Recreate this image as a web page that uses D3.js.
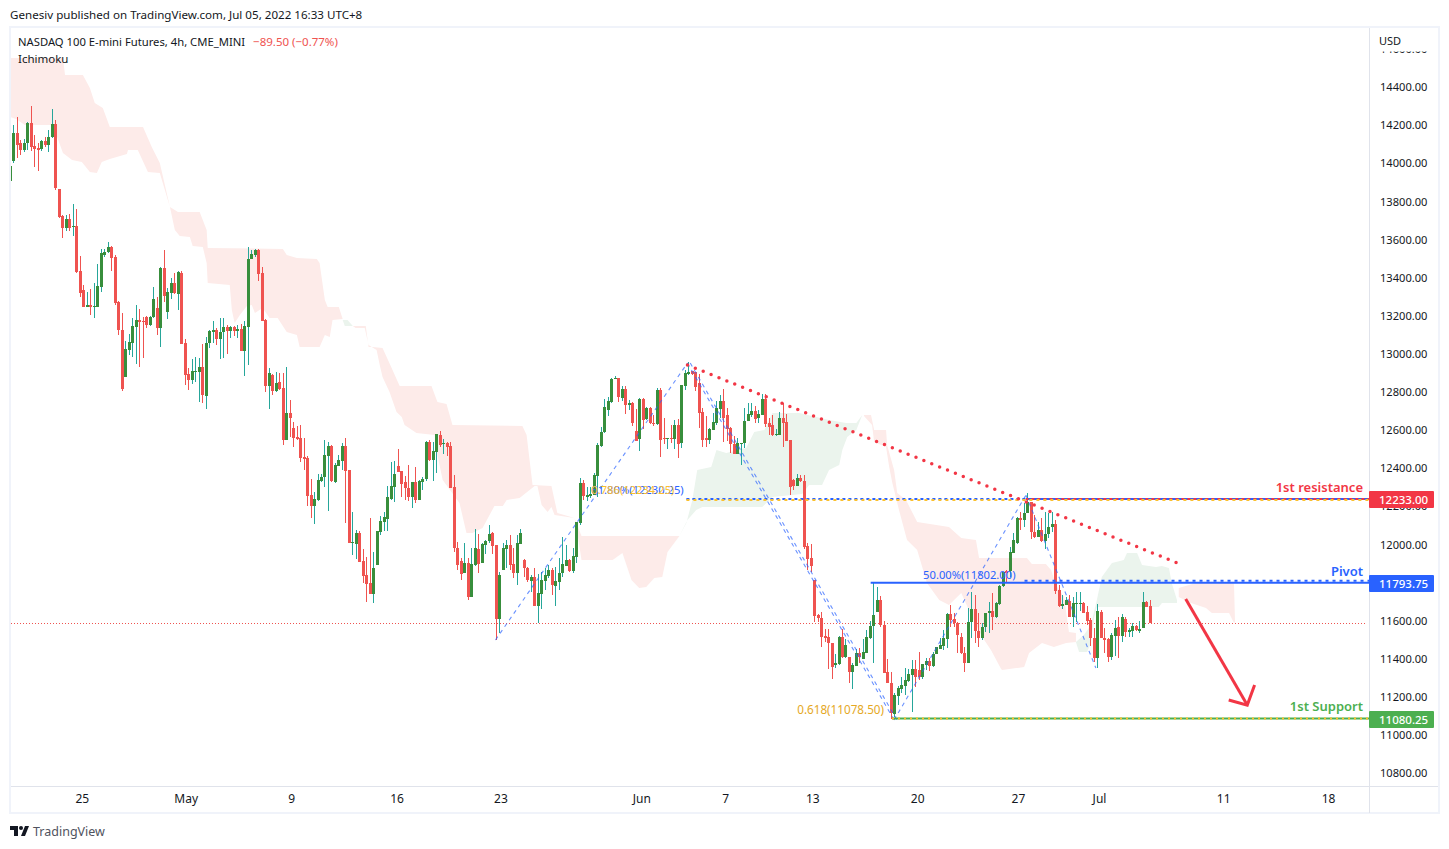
<!DOCTYPE html>
<html>
<head>
<meta charset="utf-8">
<script src="https://cdn.jsdelivr.net/npm/d3@7"></script>
<style>
body { margin: 0; background: #fff; overflow: hidden; }
text { font-family: "Noto Sans", sans-serif; }
</style>
</head>
<body>
<div id="content"></div>
<script>
// candles, one value per 4h bar
const opens = [
13900,14006,14151,14099,14064,14099,14204,14085,14073,14067,
14111,14092,14130,14200,13859,13718,13653,13702,13662,13665,
13429,13329,13242,13249,13242,13242,13347,13515,13527,13555,
13502,13266,13119,12874,13014,13053,13137,13172,13166,13186,
13146,13186,13233,13132,13446,13215,13315,13364,13308,13420,
13051,12888,12857,12900,12899,12925,12775,13049,13110,13119,
13074,13107,13135,13114,13135,13114,13125,13011,13137,13492,
13513,13539,13417,13172,12825,12883,12799,12845,12815,12542,
12684,12603,12556,12551,12453,12446,12254,12196,12227,12329,
12346,12460,12511,12323,12407,12434,12511,12385,12003,11998,
12052,11907,11834,11790,11734,11886,12061,12114,12128,12234,
12297,12406,12379,12322,12288,12243,12322,12227,12323,12339,
12532,12437,12481,12568,12519,12526,12512,12294,11975,11907,
11843,11895,11720,11886,11970,11895,11991,12012,12052,11991,
11603,11860,11970,11991,11892,11843,11996,11912,11872,11804,
11822,11673,11734,11804,11830,11860,11776,11799,11846,11883,
11912,11855,11930,12105,12315,12245,12248,12254,12353,12511,
12583,12700,12744,12863,12866,12761,12810,12726,12739,12590,
12548,12758,12653,12709,12634,12627,12805,12551,12548,12552,
12548,12621,12529,12826,12889,12905,12901,12840,12688,12551,
12543,12595,12634,12706,12747,12674,12604,12522,12469,12523,
12525,12642,12674,12697,12656,12674,12758,12630,12620,12570,
12569,12656,12636,12543,12333,12301,12341,12328,11986,11922,
11808,11624,11610,11515,11510,11475,11364,11367,11510,11402,
11402,11327,11358,11423,11393,11427,11505,11568,11642,11703,
11572,11327,11266,11105,11199,11236,11252,11280,11309,11341,
11336,11297,11362,11383,11358,11420,11446,11462,11498,11628,
11603,11580,11510,11427,11371,11586,11656,11542,11505,11563,
11633,11645,11615,11682,11778,11855,11855,11951,12000,12131,
12123,12158,12215,12062,12035,12070,12014,12049,12084,12100,
11755,11673,11677,11700,11615,11684,11684,11685,11638,11598,
11502,11397,11638,11502,11497,11406,11515,11560,11515,11603,
11533,11540,11567,11540,11554,11694,11671];

const highs = [
14011,14195,14239,14116,14120,14213,14295,14143,14099,14116,
14130,14169,14279,14221,13859,13723,13725,13730,13780,13754,
13508,13355,13319,13333,13364,13466,13542,13542,13581,13560,
13513,13271,13210,13062,13098,13180,13250,13229,13186,13193,
13193,13345,13294,13452,13539,13340,13394,13420,13429,13429,
13072,12922,12967,12979,12972,13046,13081,13119,13166,13128,
13180,13180,13145,13142,13142,13145,13151,13166,13553,13539,
13542,13542,13448,13175,12918,12888,12900,12895,12892,12923,
12752,12637,12617,12621,12551,12460,12337,12272,12364,12364,
12542,12533,12516,12420,12463,12525,12551,12385,12166,12070,
12066,11968,11930,12135,11953,12065,12143,12166,12301,12428,
12432,12493,12379,12353,12411,12323,12399,12332,12346,12535,
12542,12533,12574,12588,12545,12533,12533,12358,12009,11921,
12000,11921,11974,12073,12047,12000,12017,12096,12061,11991,
11851,12000,12017,12044,11974,12044,12073,11918,11877,11834,
11868,11837,11851,11868,11886,11868,11877,11921,12035,11991,
11918,11974,12114,12341,12332,12294,12294,12367,12525,12613,
12756,12767,12866,12879,12866,12825,12826,12750,12740,12705,
12765,12765,12714,12714,12674,12817,12814,12660,12551,12621,
12648,12653,12831,12907,12949,12905,12901,12889,12709,12669,
12604,12683,12749,12780,12810,12709,12609,12564,12551,12525,
12709,12735,12735,12721,12700,12782,12782,12656,12674,12600,
12691,12739,12679,12543,12340,12364,12360,12360,12000,11997,
11808,11630,11638,11550,11551,11475,11420,11514,11550,11500,
11406,11371,11445,11450,11498,11545,11593,11790,11773,11724,
11590,11395,11327,11213,11250,11297,11344,11339,11388,11388,
11432,11367,11397,11397,11432,11458,11502,11545,11633,11677,
11633,11586,11530,11458,11659,11743,11729,11633,11580,11633,
11694,11738,11694,11782,11852,11860,11979,12053,12137,12163,
12210,12263,12215,12149,12114,12131,12166,12158,12166,12123,
11782,11729,11720,11730,11720,11747,11747,11691,11671,11607,
11554,11680,11650,11554,11502,11528,11598,11615,11629,11615,
11558,11580,11572,11590,11747,11700,11703];

const lows = [
13854,13994,14020,14038,14055,14064,14060,13976,13955,14060,
14081,14055,14125,13854,13705,13600,13640,13640,13613,13420,
13294,13238,13240,13198,13182,13240,13320,13504,13525,13429,
13250,13093,12801,12874,12988,12979,12939,12927,12974,13130,
13140,13180,13093,13032,13268,13179,13282,13306,13224,13046,
12831,12804,12836,12848,12742,12738,12707,13023,13049,13040,
12969,12974,12993,13076,13088,13079,13011,12880,12936,13490,
13504,13376,13168,12796,12705,12778,12794,12805,12516,12542,
12560,12507,12542,12428,12385,12196,12135,12101,12224,12320,
12294,12171,12323,12315,12404,12385,12105,12003,11939,11920,
11904,11790,11694,11734,11689,11886,12045,12065,12066,12227,
12219,12376,12241,12227,12222,12187,12213,12227,12280,12329,
12434,12329,12371,12507,12469,12460,12288,11956,11860,11808,
11843,11703,11720,11881,11846,11895,11944,12000,11944,11493,
11528,11858,11870,11860,11816,11781,11996,11825,11799,11746,
11671,11580,11654,11755,11820,11729,11673,11755,11825,11881,
11851,11843,11898,12096,12227,12224,12236,12254,12245,12508,
12578,12670,12739,12860,12744,12745,12679,12700,12618,12539,
12482,12599,12648,12627,12616,12621,12455,12520,12495,12525,
12497,12447,12499,12805,12884,12884,12802,12604,12503,12508,
12522,12595,12621,12657,12534,12539,12473,12469,12469,12412,
12499,12642,12665,12630,12630,12674,12613,12569,12564,12565,
12569,12508,12539,12254,12280,12301,12323,11971,11860,11852,
11589,11589,11458,11480,11341,11286,11344,11362,11397,11397,
11269,11236,11355,11373,11393,11423,11500,11370,11640,11560,
11318,11266,11080,11090,11152,11213,11204,11274,11117,11248,
11283,11290,11336,11330,11353,11420,11446,11440,11449,11563,
11563,11423,11418,11323,11371,11502,11476,11458,11493,11533,
11530,11545,11607,11677,11773,11799,11825,11947,11995,12070,
12088,12165,12021,12026,12035,12009,11972,12026,12062,11734,
11668,11657,11677,11615,11563,11589,11647,11633,11572,11462,
11379,11344,11502,11423,11379,11388,11409,11400,11484,11510,
11510,11510,11540,11528,11554,11664,11580];

const closes = [
13980,14151,14090,14064,14099,14207,14081,14071,14064,14111,
14090,14130,14200,13863,13711,13653,13702,13655,13664,13425,
13312,13242,13250,13242,13245,13350,13523,13527,13555,13499,
13263,13119,12810,13020,13056,13140,13172,13163,13163,13146,
13186,13282,13132,13446,13299,13319,13364,13312,13422,13046,
12883,12857,12904,12904,12925,12778,13049,13114,13119,13074,
13107,13135,13114,13135,13114,13126,13011,13140,13492,13518,
13539,13413,13168,12825,12892,12799,12840,12808,12542,12684,
12658,12554,12547,12449,12442,12248,12196,12233,12332,12346,
12463,12511,12327,12411,12437,12511,12381,12003,12007,12052,
11904,11829,11787,11734,11869,12065,12117,12138,12241,12301,
12364,12376,12311,12288,12243,12322,12227,12327,12339,12532,
12437,12484,12574,12516,12526,12507,12288,11974,11886,11839,
11895,11720,11892,11974,11892,11995,12012,12047,11988,11603,
11834,11974,11991,11886,11843,12000,12052,11872,11808,11822,
11671,11738,11808,11834,11860,11781,11802,11846,11892,11912,
11855,11933,12110,12315,12248,12254,12259,12358,12516,12583,
12714,12747,12863,12866,12770,12810,12726,12737,12634,12539,
12758,12648,12709,12630,12625,12805,12543,12546,12551,12545,
12621,12522,12831,12896,12901,12889,12823,12686,12543,12543,
12600,12639,12712,12747,12656,12600,12522,12469,12525,12525,
12642,12679,12697,12653,12679,12758,12627,12609,12569,12572,
12656,12634,12539,12294,12301,12341,12329,11983,11918,11881,
11619,11610,11510,11505,11475,11353,11371,11510,11406,11467,
11327,11362,11423,11402,11432,11510,11568,11624,11703,11572,
11322,11266,11108,11204,11239,11257,11283,11315,11341,11301,
11297,11365,11383,11358,11420,11455,11467,11502,11628,11598,
11580,11519,11423,11374,11586,11656,11542,11505,11563,11633,
11645,11615,11685,11778,11852,11846,11953,12018,12131,12123,
12158,12215,12062,12035,12070,12014,12049,12084,12100,11752,
11671,11680,11703,11615,11685,11687,11687,11636,11594,11502,
11397,11645,11505,11493,11406,11519,11554,11515,11615,11533,
11545,11567,11546,11551,11691,11668,11580];

// ichimoku cloud outlines as [bar, price]
const redCloudA = [[0.1,14547],[15.2,14547],[15.8,14458],[20.9,14458],[22.9,14389],[24.3,14311],[26.6,14285],[28.6,14185],[38.1,14185],[40.6,14080],[42.9,13996],[45.8,13765],[48.1,13739],[54.3,13739],[56.3,13644],[56.6,13550],[78.1,13545],[79.2,13513],[82.1,13497],[87.8,13492],[88.6,13471],[90.1,13277],[90.9,13240],[94.1,13240],[95.2,13177],
  [92.3,13172],[91.5,13083],[90.1,13093],[88.6,13030],[82.9,13030],[82.1,13093],[79.2,13109],[76.6,13182],[74.3,13182],[72.3,13235],[70.1,13209],[69.2,13251],[67.8,13245],[65.8,13198],[64.3,13156],[63.5,13224],[62.9,13356],[56.6,13366],[56.3,13471],[55.2,13555],[52.3,13560],[51.5,13608],[48.6,13613],[47.2,13644],[45.8,13765],[42.9,13943],[39.5,13949],[36.6,14064],[33.8,14064],[33.5,14043],[28.6,14017],[26.3,14001],[24.9,13943],[22.9,13949],[20.6,14001],[17.8,14012],[15.2,14048],[12.3,14195],[4.3,14195],[1.8,14227],[0.1,14237]];
const greenCloudA = [[95.2,13172],[96.6,13172],[98.1,13140],[95.8,13140]];
const redCloudB = [[98.1,13140],[101.8,13140],[102.6,13030],[103.8,13030],[106.6,13025],[109.2,12920],[111.5,12826],[120.6,12826],[122.3,12742],[124.9,12731],[126.6,12621],[146.6,12616],[147.8,12569],[149.5,12306],[154.9,12301],[156.6,12159],[161.5,12133],
  [155.8,12149],[154.9,12191],[153.8,12165],[152.1,12201],[150.9,12301],[150.1,12301],[145.8,12238],[142.1,12227],[141,12196],[138.6,12196],[135.2,12080],[132.3,12054],[130.6,12054],[128.6,12212],[126.3,12269],[123.8,12332],[122.3,12463],[121.5,12568],[116.3,12579],[112.9,12621],[112.1,12663],[110.6,12689],[108.6,12794],[106.6,12873],[105.8,12936],[104.9,13015],[102.6,13041],[101.5,13130],[98.9,13130]];
const redCloudC = [[161.5,12133],[163.5,12038],[191.5,12038],[188.1,11954],[186.6,11823],[184.3,11818],[182,11771],[180,11765],[177.8,11808],[175.2,11949],[172.4,11912],[163.5,11912],[162.1,12080]];
const greenCloudB = [[191.5,12038],[193.5,12107],[195.2,12227],[196.6,12385],[200.6,12400],[202.1,12490],[204.9,12474],[210.6,12500],[212.9,12584],[215.8,12595],[218.1,12684],[225.8,12684],[234.3,12647],[239.2,12631],[242.1,12631],[243.8,12673],
  [242.1,12595],[239.5,12558],[238.1,12490],[237.2,12411],[234.3,12385],[232.3,12306],[228.6,12306],[226.6,12259],[218.1,12243],[215.2,12191],[198.1,12191],[196.3,12175],[193.8,12122]];
const redCloudD = [[244.3,12673],[246.3,12673],[247.2,12595],[250.6,12595],[250.9,12516],[252.9,12385],[253.8,12264],[256.3,12227],[259.5,12112],[268.6,12086],[272.1,12028],[276.3,12018],[277.2,11923],[290.9,11923],[292.3,11892],[296.3,11892],[297.8,11860],[299.2,11781],[301.5,11718],[302.9,11535],[304.9,11530],
  [304.9,11482],[302.1,11477],[298.6,11456],[295.2,11477],[291.5,11424],[290.1,11351],[283.8,11335],[283.5,11340],[280.6,11440],[278.1,11508],[275.2,11613],[272.1,11739],[268.6,11676],[265.8,11703],[262.3,11792],[259.5,11965],[256.6,12018],[254.3,12175],[252.4,12317],[251.5,12401],[250.6,12505],[247.2,12532],[246.6,12621],[244.3,12668]];
const greenCloudC = [[304.9,11482],[307.2,11519],[309.2,11571],[310.9,11704],[312.3,11823],[315.2,11897],[318.6,11912],[319.5,11949],[322.4,11949],[323.8,11886],[327.8,11876],[329.5,11881],[331.5,11870],[332.3,11792],[333.8,11702],[333.8,11687],
  [329.5,11687],[328.6,11666],[310.9,11666],[310.1,11608],[309.2,11477],[308.1,11430],[305.8,11430]];
const redCloudE = [[334.3,11765],[339.2,11792],[350.1,11792],[350.4,11587],[350.1,11582],[348.7,11634],[343.8,11634],[342.1,11660],[337.8,11687],[334.3,11718]];

// drawings, also [bar, price]
const fibSwings = [[[138.9,11493],[193.8,12946]],[[252.9,11073],[290.6,12253]],[[290.6,12253],[310.6,11346]]];
const fibDoubleLeg = [[[193.8,12946],[252.9,11073]],[[194.6,12946],[253.7,11073]]];
const trendLine = [[193.8,12936],[333.9,11897]];
const arrowShaft = [[336.3,11708],[353.9,11151]];
const arrowHead = [[348.6,11178],[353.9,11151],[356,11257]];

const lastPrice = 11582;
const resistance = 12233;
const pivot = 11793.75;
const support = 11080.25;
const priceTicks = [14600,14400,14200,14000,13800,13600,13400,13200,13000,12800,12600,12400,12200,12000,11800,11600,11400,11200,11000,10800];
const timeBars = [20.6,50.3,80.5,110.6,140.3,180.6,204.6,229.5,259.5,288.3,311.5,347,377];
const timeLabels = ['25','May','9','16','23','Jun','7','13','20','27','Jul','11','18'];

const width = 1449, height = 849;
const plotLeft = 11, plotRight = 1369, plotTop = 28, plotBottom = 786;
const green = '#388e3c', teal = '#26a69a', red = '#ef5350', mark = '#f23645';
const blue = '#2962ff', gold = '#fbc02d', lineGreen = '#4caf50';

const x = d3.scaleLinear().domain([0, 326]).range([9.8, 1149.7]);
const y = d3.scaleLinear().domain([14400, 10800]).range([86, 772]);

const svg = d3.select('#content').append('svg')
    .attr('width', width)
    .attr('height', height)
    .style('display', 'block');

svg.append('clipPath').attr('id', 'plot').append('rect')
    .attr('x', plotLeft).attr('y', plotTop)
    .attr('width', plotRight - plotLeft).attr('height', plotBottom - plotTop);
// clip is read in the axis group's own coordinates
svg.append('clipPath').attr('id', 'prices').append('rect')
    .attr('x', 0).attr('y', 51.5)
    .attr('width', 70).attr('height', 740);

// frame
svg.append('rect').attr('x', 10).attr('y', 27).attr('width', 1429).attr('height', 786)
    .attr('fill', '#fff').attr('stroke', '#f0f3fa').attr('stroke-width', 2);
svg.append('line').attr('x1', plotRight + 0.5).attr('x2', plotRight + 0.5).attr('y1', 28).attr('y2', 813).attr('stroke', '#e0e3eb');
svg.append('line').attr('x1', 11).attr('x2', 1438).attr('y1', plotBottom + 0.5).attr('y2', plotBottom + 0.5).attr('stroke', '#e0e3eb');

const plot = svg.append('g').attr('clip-path', 'url(#plot)');

// clouds
const outline = d3.line().x(d => x(d[0])).y(d => y(d[1]));
[redCloudA, redCloudB, redCloudC, redCloudD, redCloudE].forEach(c => {
    plot.append('path').attr('d', outline(c) + 'Z').attr('fill', '#fdebe9');
});
[greenCloudA, greenCloudB, greenCloudC].forEach(c => {
    plot.append('path').attr('d', outline(c) + 'Z').attr('fill', '#ebf4ed');
});

// last price line
plot.append('line')
    .attr('x1', plotLeft).attr('x2', plotRight - 2)
    .attr('y1', Math.round(y(lastPrice)) + 0.5).attr('y2', Math.round(y(lastPrice)) + 0.5)
    .attr('stroke', red).attr('stroke-dasharray', '1 2');

// candles
const bars = d3.range(opens.length);
plot.selectAll('.wick').data(bars).enter().append('rect')
    .attr('class', 'wick')
    .attr('x', i => Math.round(x(i)))
    .attr('y', i => Math.round(y(highs[i])))
    .attr('width', 1)
    .attr('height', i => Math.max(1, Math.round(y(lows[i])) - Math.round(y(highs[i]))))
    .attr('fill', i => closes[i] >= opens[i] ? teal : red);
plot.selectAll('.body').data(bars).enter().append('rect')
    .attr('class', 'body')
    .attr('x', i => Math.round(x(i)) - 1)
    .attr('y', i => Math.round(y(Math.max(opens[i], closes[i]))))
    .attr('width', 3)
    .attr('height', i => Math.max(1, Math.round(y(Math.min(opens[i], closes[i]))) - Math.round(y(Math.max(opens[i], closes[i])))))
    .attr('fill', i => closes[i] >= opens[i] ? green : red);

// fib drawings
fibSwings.concat(fibDoubleLeg).forEach(s => {
    plot.append('path').attr('d', outline(s)).attr('fill', 'none')
        .attr('stroke', '#2962ff').attr('stroke-opacity', 0.7).attr('stroke-width', 1.1)
        .attr('stroke-dasharray', '4 4');
});

// level lines
function level(price, fromBar, color, w, dash, nudge) {
    const l = plot.append('line')
        .attr('x1', x(fromBar)).attr('x2', plotRight)
        .attr('y1', y(price) + (nudge || 0)).attr('y2', y(price) + (nudge || 0))
        .attr('stroke', color).attr('stroke-width', w);
    if (dash) l.attr('stroke-dasharray', dash);
}
level(resistance, 290.6, mark, 2);
level(resistance, 193.5, blue, 2, '3 3');
level(resistance, 193.5, gold, 2, '3 4', 1);
level(pivot, 246.2, blue, 2);
level(pivot, 290.2, blue, 2, '3 4', -2);
level(support, 252.3, lineGreen, 2);
level(support, 252.3, gold, 2, '2 4');

plot.append('path').attr('d', outline(trendLine)).attr('fill', 'none')
    .attr('stroke', mark).attr('stroke-width', 3.5)
    .attr('stroke-linecap', 'round').attr('stroke-dasharray', '0 8.5');

plot.append('path').attr('d', outline(arrowShaft)).attr('fill', 'none').attr('stroke', mark).attr('stroke-width', 3);
plot.append('path').attr('d', outline(arrowHead)).attr('fill', 'none').attr('stroke', mark).attr('stroke-width', 3);

// fib labels
function plotText(str, bar, price, color, anchor, size, weight) {
    plot.append('text').attr('x', x(bar)).attr('y', y(price)).text(str)
        .attr('fill', color).attr('font-size', size || 11.2)
        .attr('text-anchor', anchor || 'start')
        .attr('font-weight', weight || 400);
}
plotText('61.80%(12230.25)', 166.3, 12258, blue);
plotText('0.786(12234.25)', 166.3, 12258, gold);
plotText('50.00%(11802.00)', 261.2, 11815, blue);
plotText('0.618(11078.50)', 225.2, 11103, '#e5a823', 'start', 11.7);
plotText('1st resistance', 387, 12270, mark, 'end', 13, 600);
plotText('Pivot', 387, 11830, blue, 'end', 13, 600);
plotText('1st Support', 387, 11120, lineGreen, 'end', 13, 600);

// axes
const priceAxis = d3.axisRight(y).tickValues(priceTicks).tickSize(0).tickPadding(11).tickFormat(d3.format('.2f'));
const priceG = svg.append('g').attr('transform', `translate(${plotRight},0)`)
    .attr('clip-path', 'url(#prices)').call(priceAxis);
priceG.select('.domain').remove();
priceG.selectAll('text').attr('font-size', 11.1).attr('dy', '0.42em').attr('fill', '#131722').attr('font-family', null);

const timeAxis = d3.axisBottom(x).tickValues(timeBars).tickSize(0).tickPadding(8)
    .tickFormat((d, i) => timeLabels[i]);
const timeG = svg.append('g').attr('transform', `translate(0,${plotBottom})`).call(timeAxis);
timeG.select('.domain').remove();
timeG.selectAll('text').attr('font-size', 12).attr('fill', '#131722').attr('font-family', null);

// price tags
[[resistance, mark], [pivot, blue], [support, lineGreen]].forEach(p => {
    const tag = svg.append('g').attr('transform', `translate(${plotRight},${Math.round(y(p[0]))})`);
    tag.append('rect').attr('y', -8).attr('width', 65).attr('height', 17).attr('rx', 1).attr('fill', p[1]);
    tag.append('text').attr('x', 10).attr('y', 4.5).text(d3.format('.2f')(p[0]))
        .attr('fill', '#fff').attr('font-size', 11.5).attr('font-weight', 500);
});

// header and footer text
svg.append('text').attr('x', 10).attr('y', 19).text('Genesiv published on TradingView.com, Jul 05, 2022 16:33 UTC+8')
    .attr('font-size', 11.6).attr('fill', '#131722');
const title = svg.append('text').attr('x', 18).attr('y', 46).attr('font-size', 11.25).attr('fill', '#131722');
title.append('tspan').text('NASDAQ 100 E-mini Futures, 4h, CME_MINI');
title.append('tspan').attr('dx', 8).attr('font-size', 11.5).attr('fill', red).text('\u221289.50 (\u22120.77%)');
svg.append('text').attr('x', 18).attr('y', 63).text('Ichimoku').attr('font-size', 11.5).attr('fill', '#131722');
svg.append('text').attr('x', 1379).attr('y', 45).text('USD').attr('font-size', 11).attr('fill', '#131722');

const logo = svg.append('g').attr('fill', '#131722');
logo.append('path').attr('d', 'M10 826h8v10h-4v-6h-4z');
logo.append('circle').attr('cx', 21).attr('cy', 828).attr('r', 2);
logo.append('path').attr('d', 'M25 826h4l-4 10h-4z');
svg.append('text').attr('x', 33).attr('y', 836).text('TradingView').attr('font-size', 12.5).attr('fill', '#50535e');
</script>
</body>
</html>
